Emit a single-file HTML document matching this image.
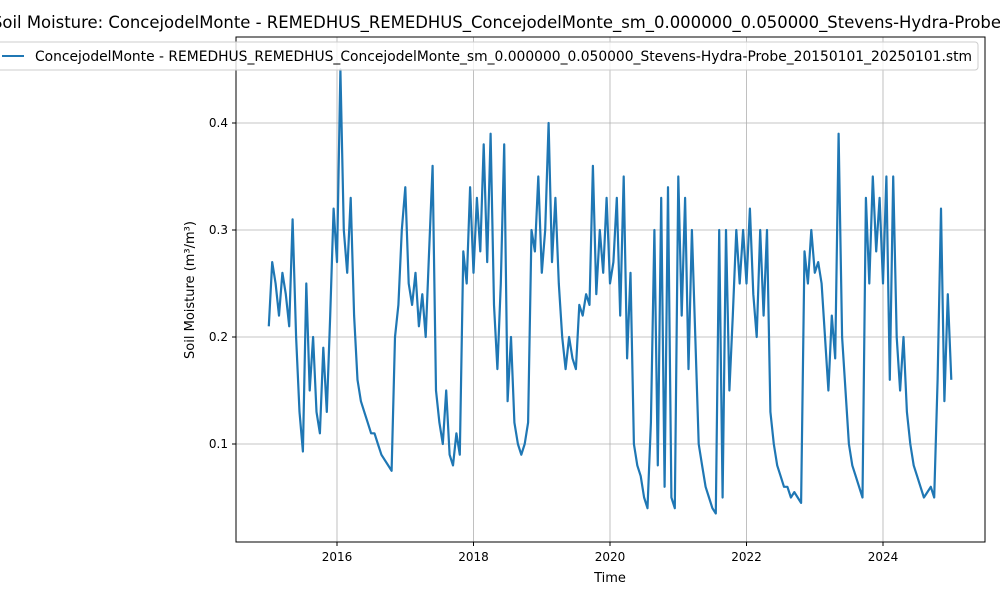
<!DOCTYPE html>
<html><head><meta charset="utf-8"><style>
body{margin:0;background:#fff;}
svg{display:block;font-family:"DejaVu Sans","Liberation Sans",sans-serif;}
</style></head><body>
<svg id="chart" width="1000" height="600" viewBox="0 0 1000 600">
<rect x="0" y="0" width="1000" height="600" fill="#fff"/>
<text x="-8" y="28" text-anchor="start" font-size="16.45" fill="#000">Soil Moisture: ConcejodelMonte - REMEDHUS_REMEDHUS_ConcejodelMonte_sm_0.000000_0.050000_Stevens-Hydra-Probe_20150101_20250101.stm</text>
<g id="grid"></g>
<g id="series"></g>
<rect x="236" y="37" width="749" height="505" fill="none" stroke="#000" stroke-width="1"/>
<g id="axes"></g>
<text x="610" y="582" text-anchor="middle" font-size="13">Time</text>
<text transform="translate(194,290) rotate(-90)" text-anchor="middle" font-size="13">Soil Moisture (m³/m³)</text>
<g>
<rect x="-10" y="42" width="988" height="28" rx="3" fill="#fff" fill-opacity="0.8" stroke="#ccc"/>
<line x1="2" y1="56" x2="24" y2="56" stroke="#1f77b4" stroke-width="2"/>
<text x="35" y="61" font-size="13.8" textLength="937" lengthAdjust="spacingAndGlyphs">ConcejodelMonte - REMEDHUS_REMEDHUS_ConcejodelMonte_sm_0.000000_0.050000_Stevens-Hydra-Probe_20150101_20250101.stm</text>
</g>
</svg>
<script>
const dates=[
2015.00,2015.05,2015.10,2015.15,2015.20,2015.25,2015.30,2015.35,2015.40,2015.45,2015.50,2015.55,2015.60,2015.65,2015.70,2015.75,2015.80,2015.85,2015.90,2015.95,
2016.00,2016.05,2016.10,2016.15,2016.20,2016.25,2016.30,2016.35,2016.40,2016.45,2016.50,2016.55,2016.60,2016.65,2016.70,2016.75,2016.80,2016.85,2016.90,2016.95,
2017.00,2017.05,2017.10,2017.15,2017.20,2017.25,2017.30,2017.35,2017.40,2017.45,2017.50,2017.55,2017.60,2017.65,2017.70,2017.75,2017.80,2017.85,2017.90,2017.95,
2018.00,2018.05,2018.10,2018.15,2018.20,2018.25,2018.30,2018.35,2018.40,2018.45,2018.50,2018.55,2018.60,2018.65,2018.70,2018.75,2018.80,2018.85,2018.90,2018.95,
2019.00,2019.05,2019.10,2019.15,2019.20,2019.25,2019.30,2019.35,2019.40,2019.45,2019.50,2019.55,2019.60,2019.65,2019.70,2019.75,2019.80,2019.85,2019.90,2019.95,
2020.00,2020.05,2020.10,2020.15,2020.20,2020.25,2020.30,2020.35,2020.40,2020.45,2020.50,2020.55,2020.60,2020.65,2020.70,2020.75,2020.80,2020.85,2020.90,2020.95,
2021.00,2021.05,2021.10,2021.15,2021.20,2021.25,2021.30,2021.35,2021.40,2021.45,2021.50,2021.55,2021.60,2021.65,2021.70,2021.75,2021.80,2021.85,2021.90,2021.95,
2022.00,2022.05,2022.10,2022.15,2022.20,2022.25,2022.30,2022.35,2022.40,2022.45,2022.50,2022.55,2022.60,2022.65,2022.70,2022.75,2022.80,2022.85,2022.90,2022.95,
2023.00,2023.05,2023.10,2023.15,2023.20,2023.25,2023.30,2023.35,2023.40,2023.45,2023.50,2023.55,2023.60,2023.65,2023.70,2023.75,2023.80,2023.85,2023.90,2023.95,
2024.00,2024.05,2024.10,2024.15,2024.20,2024.25,2024.30,2024.35,2024.40,2024.45,2024.50,2024.55,2024.60,2024.65,2024.70,2024.75,2024.80,2024.85,2024.90,2024.95,
2025.00];
const values=[
0.21,0.27,0.25,0.22,0.26,0.24,0.21,0.31,0.20,0.13,0.093,0.25,0.15,0.20,0.13,0.11,0.19,0.13,0.22,0.32,
0.27,0.45,0.30,0.26,0.33,0.22,0.16,0.14,0.13,0.12,0.11,0.11,0.10,0.09,0.085,0.08,0.075,0.20,0.23,0.30,
0.34,0.25,0.23,0.26,0.21,0.24,0.20,0.28,0.36,0.15,0.12,0.10,0.15,0.09,0.08,0.11,0.09,0.28,0.25,0.34,
0.26,0.33,0.28,0.38,0.27,0.39,0.23,0.17,0.25,0.38,0.14,0.20,0.12,0.10,0.09,0.10,0.12,0.30,0.28,0.35,
0.26,0.30,0.40,0.27,0.33,0.25,0.20,0.17,0.20,0.18,0.17,0.23,0.22,0.24,0.23,0.36,0.24,0.30,0.26,0.33,
0.25,0.27,0.33,0.22,0.35,0.18,0.26,0.10,0.08,0.07,0.05,0.04,0.12,0.30,0.08,0.33,0.06,0.34,0.05,0.04,
0.35,0.22,0.33,0.17,0.30,0.20,0.10,0.08,0.06,0.05,0.04,0.035,0.30,0.05,0.30,0.15,0.22,0.30,0.25,0.30,
0.25,0.32,0.24,0.20,0.30,0.22,0.30,0.13,0.10,0.08,0.07,0.06,0.06,0.05,0.055,0.05,0.045,0.28,0.25,0.30,
0.26,0.27,0.25,0.20,0.15,0.22,0.18,0.39,0.20,0.15,0.10,0.08,0.07,0.06,0.05,0.33,0.25,0.35,0.28,0.33,
0.25,0.35,0.16,0.35,0.20,0.15,0.20,0.13,0.10,0.08,0.07,0.06,0.05,0.055,0.06,0.05,0.16,0.32,0.14,0.24,
0.16];
const xTicks=[2016,2018,2020,2022,2024];
const yTicks=[0.1,0.2,0.3,0.4];
const NS="http://www.w3.org/2000/svg";
const L=236,R=985,T=37,B=542;
function xs(t){return 337+(t-2016)*68.25;}
function ys(v){return 444-(v-0.1)*1070;}
const grid=document.getElementById('grid'),axes=document.getElementById('axes'),ser=document.getElementById('series');
function mk(tag,a,p){const e=document.createElementNS(NS,tag);for(const k in a)e.setAttribute(k,a[k]);p.appendChild(e);return e;}
xTicks.forEach(t=>{const x=xs(t);
 const g=mk('line',{x1:x,x2:x,y1:T,y2:B,stroke:'#b0b0b0','stroke-width':0.8},grid);
 
 
 mk('line',{x1:x,x2:x,y1:B,y2:B+4,stroke:'#000'},axes);
 const tx=mk('text',{x:x,y:B+19,'text-anchor':'middle','font-size':12},axes);tx.textContent=t;
 
 });
yTicks.forEach(v=>{const y=ys(v);
 const g=mk('line',{x1:L,x2:R,y1:y,y2:y,stroke:'#b0b0b0','stroke-width':0.8},grid);
 
 
 mk('line',{x1:L-4,x2:L,y1:y,y2:y,stroke:'#000'},axes);
 const tx=mk('text',{x:L-8,y:y+4,'text-anchor':'end','font-size':12},axes);tx.textContent=v.toFixed(1);
 
 });
const n=Math.min(dates.length,values.length);
let d='';
for(let i=0;i<n;i++){d+=(i?'L':'M')+xs(dates[i]).toFixed(1)+','+ys(values[i]).toFixed(1)+' ';}
const p=mk('path',{d:d,fill:'none',stroke:'#1f77b4','stroke-width':2.2,'stroke-linejoin':'round'},ser);


</script>
</body></html>
